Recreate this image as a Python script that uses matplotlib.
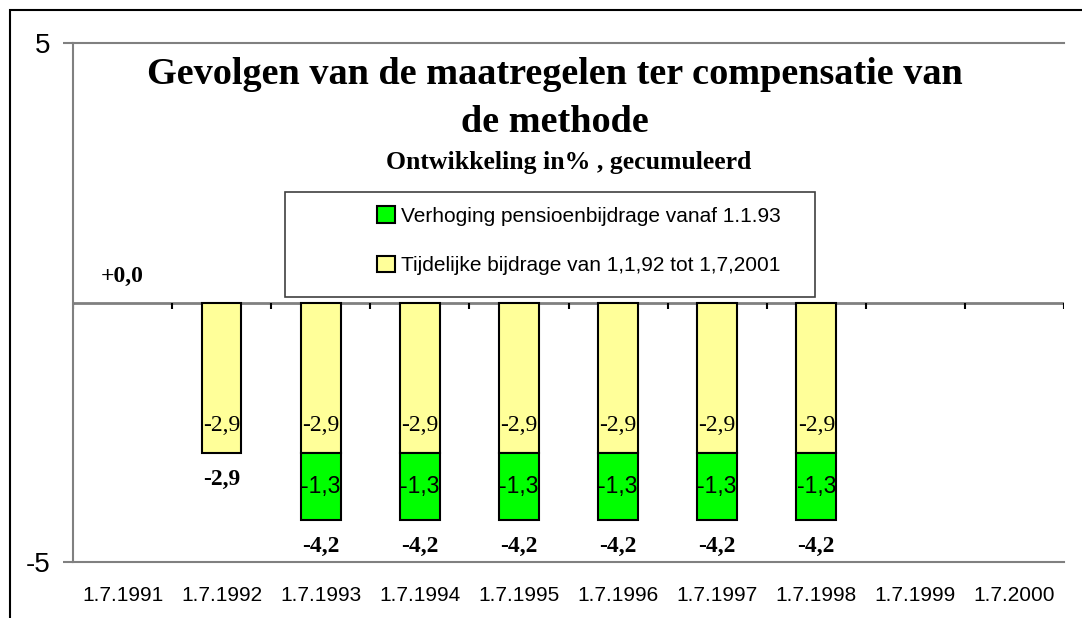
import matplotlib
matplotlib.use("Agg")
import matplotlib.pyplot as plt
import numpy as np
from matplotlib.patches import Patch, Rectangle

# data
categories = ["1.7.1991", "1.7.1992", "1.7.1993", "1.7.1994", "1.7.1995",
              "1.7.1996", "1.7.1997", "1.7.1998", "1.7.1999", "1.7.2000"]
tijdelijke = [np.nan, -2.9, -2.9, -2.9, -2.9, -2.9, -2.9, -2.9, np.nan, np.nan]
verhoging = [np.nan, np.nan, -1.3, -1.3, -1.3, -1.3, -1.3, -1.3, np.nan, np.nan]
totaal = [0.0, -2.9, -4.2, -4.2, -4.2, -4.2, -4.2, -4.2, np.nan, np.nan]

series_names = ["Verhoging pensioenbijdrage vanaf 1.1.93",
                "Tijdelijke bijdrage van 1,1,92 tot 1,7,2001"]
title = "Gevolgen van de maatregelen ter compensatie van\nde methode"
subtitle = "Ontwikkeling in% , gecumuleerd"

YELLOW, GREEN = "#ffff99", "#00ff00"
AXIS_GREY = "#808080"
SERIF = ["Liberation Serif", "DejaVu Serif"]
SANS = ["Liberation Sans", "DejaVu Sans"]


def fmt(v, sign=False):
    s = f"{v:+.1f}" if sign else f"{v:.1f}"
    return s.replace(".", ",")


W, H = 1082, 618
fig = plt.figure(figsize=(W / 100, H / 100), dpi=100)
fig.set_facecolor("white")
ax = fig.add_axes([73 / W, 1 - 562 / H, (1064 - 73) / W, (562 - 43) / H])

x = np.arange(len(categories)) + 0.5
yel = np.array(tijdelijke)
grn = np.array(verhoging)
tot = np.array(totaal)

ax.bar(x, yel, width=0.4, color=YELLOW, edgecolor="black", linewidth=1.5, zorder=3)
ax.bar(x, grn, width=0.4, bottom=np.nan_to_num(yel), color=GREEN,
       edgecolor="black", linewidth=1.5, zorder=3)

ax.set_xlim(0, len(categories))
ax.set_ylim(-5, 5)

# zero axis with category separators
ax.axhline(0, color=AXIS_GREY, linewidth=2, zorder=2)
edges = np.arange(len(categories) + 1)
ax.vlines(edges, -0.13, 0, color="black", linewidth=1.5, zorder=2)

for side in ("left", "top", "bottom"):
    ax.spines[side].set_color(AXIS_GREY)
    ax.spines[side].set_linewidth(1.5)
ax.spines["right"].set_visible(False)

ax.set_yticks([-5, 5], ["-5", "5"])
ax.tick_params(axis="y", length=7, width=1.5, color=AXIS_GREY, pad=9,
               labelsize=20)
ax.set_xticks(x, categories)
ax.tick_params(axis="x", length=0, pad=17, labelsize=15)
for lab in ax.get_xticklabels() + ax.get_yticklabels():
    lab.set_family(SANS)

# value labels
for xi, yv, gv, tv in zip(x, yel, grn, tot):
    if not np.isnan(yv):
        ax.annotate(fmt(yv), (xi, yv), xytext=(0, 20), textcoords="offset points",
                    ha="center", va="center", fontsize=17, family=SERIF, zorder=4)
    if not np.isnan(gv):
        ax.text(xi, yv + gv / 2, fmt(gv), ha="center", va="center",
                fontsize=16.5, family=SANS, zorder=4)
    if not np.isnan(tv):
        sign = tv == 0
        ax.annotate(fmt(tv, sign=sign), (xi, tv),
                    xytext=(0, 19 if sign else -19), textcoords="offset points",
                    ha="center", va="center", fontsize=17, fontweight="bold",
                    family=SERIF)

# titles
fig.text(555 / W, 1 - 57 / H, title, ha="center", va="top", fontsize=27.5,
         fontweight="bold", family=SERIF, linespacing=1.5)
fig.text(569 / W, 1 - 162 / H, subtitle, ha="center", va="center", fontsize=18.5,
         fontweight="bold", family=SERIF)

# legend box and entries
fig.add_artist(Rectangle((285 / W, 1 - 297 / H), 530 / W, 105 / H,
                         transform=fig.transFigure, facecolor="white",
                         edgecolor="#404040", linewidth=1.2, zorder=5))
handles = [Patch(facecolor=GREEN, edgecolor="black", linewidth=1.5),
           Patch(facecolor=YELLOW, edgecolor="black", linewidth=1.5)]
leg = fig.legend(handles, series_names, loc="upper left",
                 bbox_to_anchor=(377 / W, 1 - 206 / H), frameon=False,
                 borderpad=0, borderaxespad=0, handlelength=0.85,
                 handleheight=0.85, handletextpad=0.3, labelspacing=1.45,
                 prop={"family": SANS, "size": 15})
leg.set_zorder(6)

# outer chart frame
fig.add_artist(Rectangle((10 / W, -0.1), 1.2, 1.1 - 10 / H,
                         transform=fig.transFigure, fill=False,
                         edgecolor="black", linewidth=1.5))

fig.savefig("out.png", dpi=100, facecolor="white")
